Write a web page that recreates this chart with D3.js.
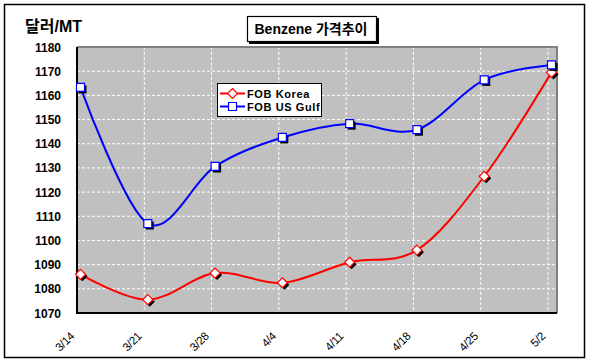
<!DOCTYPE html>
<html>
<head>
<meta charset="utf-8">
<script src="https://cdn.jsdelivr.net/npm/d3@7"></script>
<style>
  body { margin: 0; background: #fff; }
  text { font-family: "Liberation Sans", Arial, "Noto Sans CJK KR", sans-serif; }
</style>
</head>
<body>
<svg id="chart" width="590" height="363"></svg>
<script>
// chart data
const dates = ['3/14', '3/21', '3/28', '4/4', '4/11', '4/18', '4/25', '5/2'];
const korea = [1086, 1075.5, 1086.5, 1082.5, 1091, 1096, 1126.5, 1169.5];
const usGulf = [1163.3, 1107, 1130.6, 1142.6, 1148.3, 1145.8, 1166.4, 1172.6];
const yTicks = [1070, 1080, 1090, 1100, 1110, 1120, 1130, 1140, 1150, 1160, 1170, 1180];

const svg = d3.select('#chart');

// plot area
const plotL = 77, plotR = 557, plotT = 47, plotB = 313;
const x = d3.scalePoint().domain(dates).range([77, 548]);
const y = d3.scaleLinear().domain([1070, 1180]).range([plotB, plotT]);
const markerShift = 3.5;

// outer frame
svg.append('rect')
  .attr('x', 4.5).attr('y', 4.5).attr('width', 580).attr('height', 353)
  .attr('fill', '#fff').attr('stroke', '#000').attr('stroke-width', 1.5);

svg.append('rect')
  .attr('x', plotL).attr('y', plotT).attr('width', plotR - plotL).attr('height', plotB - plotT)
  .attr('fill', '#c0c0c0');

// gridlines
svg.append('g').selectAll('line').data(yTicks.slice(1)).join('line')
  .attr('x1', plotL).attr('x2', plotR)
  .attr('y1', d => y(d)).attr('y2', d => y(d))
  .attr('stroke', '#fff').attr('stroke-dasharray', '3,2');

svg.append('g').selectAll('line').data(dates.slice(1)).join('line')
  .attr('x1', d => x(d)).attr('x2', d => x(d))
  .attr('y1', plotT).attr('y2', plotB)
  .attr('stroke', '#fff').attr('stroke-dasharray', '3,2');

// plot border: gray top/right, black axes
svg.append('path')
  .attr('d', `M${plotL},${plotT}H${plotR}V${plotB}`)
  .attr('fill', 'none').attr('stroke', '#808080').attr('stroke-width', 2);
svg.append('path')
  .attr('d', `M${plotL},${plotT}V${plotB}H${plotR}`)
  .attr('fill', 'none').attr('stroke', '#000').attr('stroke-width', 2);

// y tick labels
svg.append('g').selectAll('text').data(yTicks).join('text')
  .attr('x', 61).attr('y', d => y(d) + 4.5)
  .attr('text-anchor', 'end')
  .attr('font-size', 12).attr('font-weight', 'bold')
  .text(d => d);

// x tick labels
svg.append('g').selectAll('text').data(dates).join('text')
  .attr('transform', d => `translate(${x(d) - 2},${plotB + 24}) rotate(-45)`)
  .attr('text-anchor', 'end')
  .attr('font-size', 11.5)
  .attr('letter-spacing', -0.3)
  .text(d => d);

// lines
const line = d3.line()
  .x((d, i) => x(dates[i]) + markerShift)
  .y(d => y(d))
  .curve(d3.curveCatmullRom.alpha(0));

const series = [
  { name: 'FOB Korea', values: korea, color: '#ff0000', shape: 'diamond' },
  { name: 'FOB US Gulf', values: usGulf, color: '#0000ff', shape: 'square' }
];

function markerPath(shape) {
  if (shape === 'diamond') return 'M0,-5L5,0L0,5L-5,0Z';
  return 'M-4,-4H4V4H-4Z';
}

series.forEach(s => {
  svg.append('path')
    .attr('d', line(s.values))
    .attr('fill', 'none').attr('stroke', s.color).attr('stroke-width', 2);
});

series.forEach(s => {
  const g = svg.append('g');
  g.selectAll('path.shadow').data(s.values).join('path')
    .attr('class', 'shadow')
    .attr('transform', (d, i) => `translate(${x(dates[i]) + markerShift + 2},${y(d) + 2})`)
    .attr('d', markerPath(s.shape))
    .attr('fill', '#000');
  g.selectAll('path.mark').data(s.values).join('path')
    .attr('class', 'mark')
    .attr('transform', (d, i) => `translate(${x(dates[i]) + markerShift},${y(d)})`)
    .attr('d', markerPath(s.shape))
    .attr('fill', '#fff').attr('stroke', s.color).attr('stroke-width', 1.2);
});

// legend
const lg = svg.append('g').attr('transform', 'translate(217,83)');
lg.append('rect').attr('x', 0.5).attr('y', 0.5).attr('width', 104).attr('height', 33)
  .attr('fill', '#fff').attr('stroke', '#000');
series.forEach((s, i) => {
  const cy = 10.5 + i * 13;
  lg.append('line').attr('x1', 3).attr('x2', 28).attr('y1', cy).attr('y2', cy)
    .attr('stroke', s.color).attr('stroke-width', 2);
  lg.append('path').attr('transform', `translate(15.5,${cy})`)
    .attr('d', markerPath(s.shape))
    .attr('fill', '#fff').attr('stroke', s.color).attr('stroke-width', 1.2);
  lg.append('text').attr('x', 30).attr('y', cy + 4)
    .attr('font-size', 11).attr('font-weight', 'bold')
    .attr('letter-spacing', 0.6)
    .text(s.name);
});

// title box
svg.append('rect').attr('x', 249).attr('y', 18).attr('width', 130).attr('height', 26).attr('fill', '#000');
svg.append('rect').attr('x', 247.5).attr('y', 16.5).attr('width', 129).attr('height', 25)
  .attr('fill', '#fff').attr('stroke', '#000').attr('stroke-width', 1.2);
svg.append('text').attr('x', 311).attr('y', 34)
  .attr('text-anchor', 'middle')
  .attr('font-size', 14).attr('font-weight', 'bold')
  .text('Benzene 가격추이');

// y axis unit
svg.append('text').attr('x', 25).attr('y', 32)
  .attr('font-size', 16).attr('font-weight', 'bold')
  .text('달러/MT');
</script>
</body>
</html>
